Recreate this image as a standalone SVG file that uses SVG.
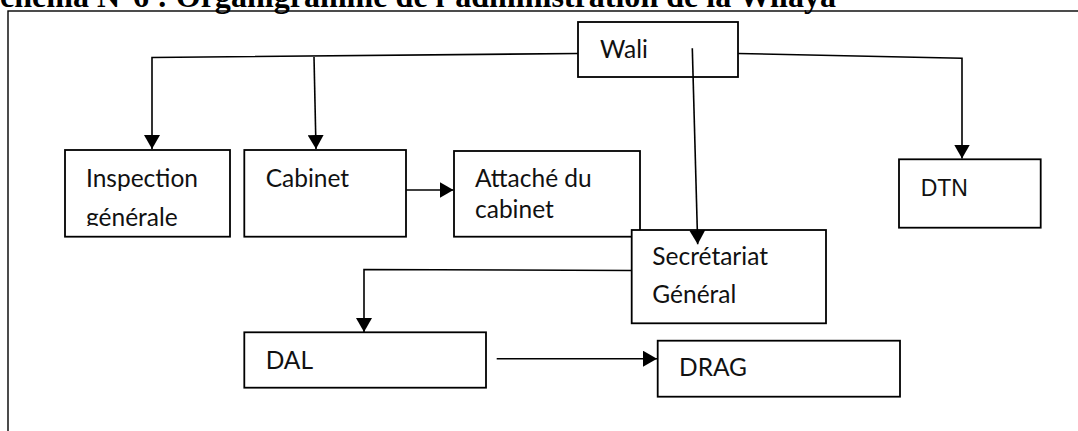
<svg xmlns="http://www.w3.org/2000/svg" width="1078" height="431" viewBox="0 0 1078 431">
<style>
.box{fill:#fff;stroke:#000;stroke-width:1.8}
.frame{fill:none;stroke:#000;stroke-width:1.4}
.ln{fill:none;stroke:#000;stroke-width:1.6}
.lbl{font-family:Lato,"Open Sans",sans-serif;font-size:24.5px;fill:#111}
.arial{font-family:"Liberation Sans",Arial,sans-serif;font-size:23px;fill:#111}
.title{font-family:"Liberation Serif","Times New Roman",serif;font-size:32px;font-weight:bold;fill:#000}
</style>
<defs>
<marker id="arr" markerUnits="userSpaceOnUse" markerWidth="16" markerHeight="16" refX="14" refY="8" orient="auto">
<path d="M0,0 L14,8 L0,16 z" fill="#000"/>
</marker>
<clipPath id="clipInsp"><rect x="65" y="150" width="165" height="76"/></clipPath>
</defs>
<rect width="1078" height="431" fill="#fff"/>
<text class="title" x="0" y="7" textLength="836" lengthAdjust="spacingAndGlyphs">chéma N°6 : Organigramme de l’administration de la Wilaya</text>
<rect class="frame" x="8" y="11" width="1090" height="440"/>

<g id="connectors">
<polyline class="ln" points="578,53.5 152,57.5 152,149" marker-end="url(#arr)"/>
<polyline class="ln" points="314,57 316,149" marker-end="url(#arr)"/>
<polyline class="ln" points="738,53.5 962,58.3 962,158.5" marker-end="url(#arr)"/>
<line class="ln" x1="406" y1="190" x2="453.5" y2="190" marker-end="url(#arr)"/>
<polyline class="ln" points="631.7,270.5 364,269.5 364,332" marker-end="url(#arr)"/>
<line class="ln" x1="496.7" y1="358.7" x2="657" y2="358.7" marker-end="url(#arr)"/>
</g>

<g id="node-wali">
<rect class="box" x="578" y="22" width="160" height="55"/>
<text class="lbl" x="600" y="58">Wali</text>
</g>
<g id="node-inspection">
<rect class="box" x="65" y="150" width="165" height="86.7"/>
<g clip-path="url(#clipInsp)">
<text class="lbl" x="86" y="186.7">Inspection</text>
<text class="lbl" x="86" y="225.7">générale</text>
</g>
</g>
<g id="node-cabinet">
<rect class="box" x="244.3" y="150" width="161.7" height="86.7"/>
<text class="lbl" x="265.7" y="186.7">Cabinet</text>
</g>
<g id="node-attache">
<rect class="box" x="454" y="151" width="186" height="85.7"/>
<text class="lbl" x="475" y="186.7">Attaché du</text>
<text class="lbl" x="475" y="218.3">cabinet</text>
</g>
<g id="node-dtn">
<rect class="box" x="899" y="159.3" width="141.7" height="68.4"/>
<text class="arial" x="920.7" y="195.7">DTN</text>
</g>
<g id="node-sg">
<rect class="box" x="631.7" y="230" width="194.3" height="93.3"/>
<text class="lbl" x="652.3" y="265">Secrétariat</text>
<text class="lbl" x="652.3" y="303.3">Général</text>
</g>
<g id="connector-wali-sg">
<line class="ln" x1="692.3" y1="48.3" x2="697.7" y2="244.3" marker-end="url(#arr)"/>
</g>
<g id="node-dal">
<rect class="box" x="244.3" y="332.3" width="241.7" height="55.4"/>
<text class="lbl" x="265.7" y="369">DAL</text>
</g>
<g id="node-drag">
<rect class="box" x="657.7" y="340.7" width="242.3" height="56"/>
<text class="lbl" x="679" y="376">DRAG</text>
</g>
</svg>
